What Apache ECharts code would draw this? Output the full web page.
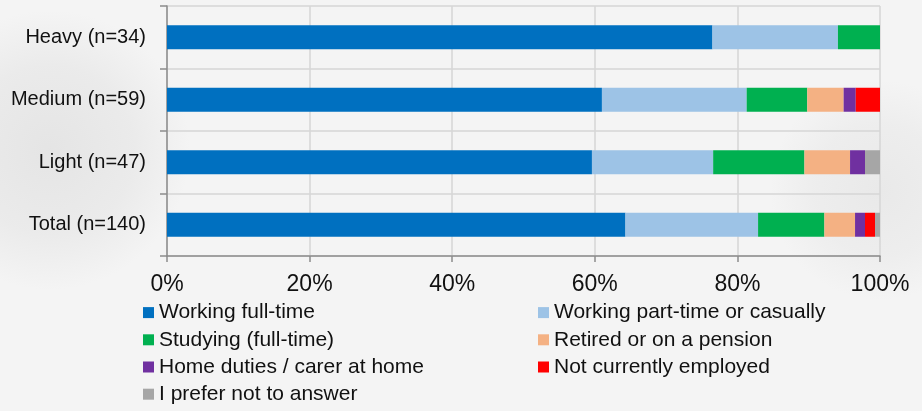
<!DOCTYPE html>
<html>
<head>
<meta charset="utf-8">
<script src="https://cdn.jsdelivr.net/npm/echarts@6/dist/echarts.min.js"></script>
<style>
  html, body { margin: 0; padding: 0; }
  #chart { width: 922px; height: 411px; }
</style>
</head>
<body>
<div id="chart"></div>
<script>
// Consumer groups, top to bottom
const categories = ['Heavy (n=34)', 'Medium (n=59)', 'Light (n=47)', 'Total (n=140)'];

// Share of each group (%) per employment status
const workingFullTime   = [76.5, 61.0, 59.6, 64.3];
const workingPartTime   = [17.6, 20.3, 17.0, 18.6];
const studyingFullTime  = [5.9, 8.5, 12.8, 9.3];
const retiredPension    = [0, 5.1, 6.4, 4.3];
const homeDuties        = [0, 1.7, 2.1, 1.4];
const notEmployed       = [0, 3.4, 0, 1.4];
const preferNotAnswer   = [0, 0, 2.1, 0.7];

const xTicks = [0, 20, 40, 60, 80, 100];

const seriesDefs = [
  { name: 'Working full-time', data: workingFullTime, color: '#0070C0' },
  { name: 'Working part-time or casually', data: workingPartTime, color: '#9DC3E6' },
  { name: 'Studying (full-time)', data: studyingFullTime, color: '#00B050' },
  { name: 'Retired or on a pension', data: retiredPension, color: '#F4B183' },
  { name: 'Home duties / carer at home', data: homeDuties, color: '#7030A0' },
  { name: 'Not currently employed', data: notEmployed, color: '#FF0000' },
  { name: 'I prefer not to answer', data: preferNotAnswer, color: '#A6A6A6' }
];

const chart = echarts.init(document.getElementById('chart'), null, { renderer: 'canvas' });

const FONT = 'Liberation Sans, Arial, sans-serif';
const legendText = { fontFamily: FONT, fontSize: 21, color: '#111', lineHeight: 27.2 };
const legendBase = {
  orient: 'vertical', top: 299, itemGap: 0, padding: 0, height: 112,
  itemWidth: 11, itemHeight: 11, icon: 'rect', textStyle: legendText
};

// Soft grey patches in the backdrop, fading out at their edges
const grey = a => 'rgba(200,200,200,' + a + ')';
const spot = (cx, cy, r, alpha) => ({
  type: 'circle', z: -10, silent: true,
  shape: { cx, cy, r },
  style: {
    fill: {
      type: 'radial', x: 0.5, y: 0.5, r: 0.5,
      colorStops: [
        { offset: 0, color: grey(alpha) },
        { offset: 0.6, color: grey(alpha * 0.6) },
        { offset: 1, color: grey(0) }
      ]
    }
  }
});

chart.setOption({
  animation: false,
  backgroundColor: '#f4f4f4',
  graphic: [
    spot(50, 150, 140, 0.35),
    spot(880, 190, 110, 0.25)
  ],
  grid: { left: 167, right: 42, top: 6, bottom: 155 },
  legend: [
    Object.assign({}, legendBase, {
      left: 143,
      data: ['Working full-time', 'Studying (full-time)', 'Home duties / carer at home', 'I prefer not to answer']
    }),
    Object.assign({}, legendBase, {
      left: 538,
      data: ['Working part-time or casually', 'Retired or on a pension', 'Not currently employed']
    })
  ],
  xAxis: {
    type: 'value', min: xTicks[0], max: xTicks[xTicks.length - 1], interval: 20,
    axisLine: { show: true, lineStyle: { color: '#8c8c8c', width: 1.5 } },
    axisTick: { show: true, length: 6, lineStyle: { color: '#8c8c8c', width: 1.5 } },
    splitLine: { show: true, lineStyle: { color: '#d6d6d6', width: 1.5 } },
    axisLabel: {
      formatter: v => v + '%', margin: 17,
      fontFamily: FONT, fontSize: 23, color: '#111'
    }
  },
  yAxis: {
    type: 'category', data: categories, inverse: true,
    axisLine: { show: true, lineStyle: { color: '#8c8c8c', width: 1.5 } },
    axisTick: { show: true, length: 7, lineStyle: { color: '#8c8c8c', width: 1.5 } },
    splitLine: { show: true, lineStyle: { color: '#d6d6d6', width: 1.5 } },
    axisLabel: {
      margin: 21, fontFamily: FONT, fontSize: 20, color: '#111'
    }
  },
  series: seriesDefs.map(s => ({
    name: s.name, type: 'bar', stack: 'all', data: s.data, barWidth: 24,
    itemStyle: { color: s.color }
  }))
});
</script>
</body>
</html>
